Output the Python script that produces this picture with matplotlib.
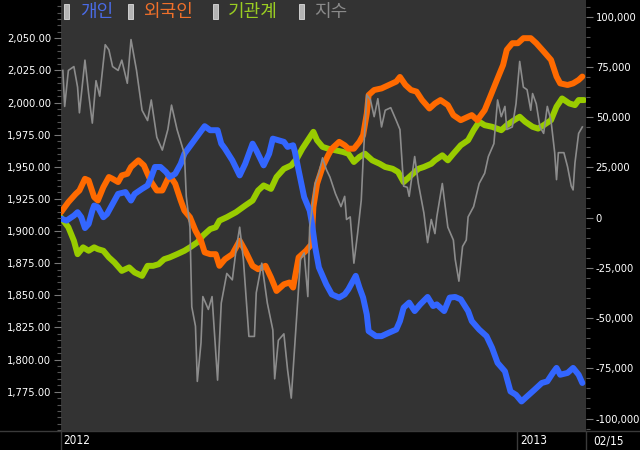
import matplotlib
matplotlib.use('Agg')
import matplotlib.pyplot as plt
from matplotlib.patches import Rectangle
from matplotlib.ticker import FuncFormatter, MultipleLocator, FixedLocator

plt.rcParams['font.family'] = ['DejaVu Sans']
plt.rcParams['font.stretch'] = 'condensed'

# 누적 순매수 (개인 / 외국인 / 기관계), 거래일 기준 x
days_indiv = [0, 3, 7, 9, 11, 13, 15, 17, 18, 20, 23, 25, 28, 31, 35, 38, 40, 44, 47, 49,
              51, 54, 57, 59, 62, 65, 67, 71, 75, 78, 81, 85, 87, 89, 93, 97, 100, 104, 106, 110,
              113, 115, 118, 121, 123, 126, 127, 129, 132, 135, 136, 138, 140, 144, 147, 151, 154, 156, 160, 162,
              164, 166, 167, 171, 174, 178, 182, 184, 186, 189, 192, 195, 199, 202, 204, 208, 211, 214, 217, 221,
              223, 227, 231, 234, 237, 241, 244, 247, 250, 253, 257, 261, 264, 267, 269, 271, 275, 278, 281, 283]
indiv = [-500, -1500, 1000, 2700, 200, -5200, -3200, 3500, 6000, 5200, 200, 1800, 6800, 11800, 12700, 8500, 11800, 14300, 16000, 20200,
         25200, 25200, 22700, 20200, 21800, 26800, 31800, 36800, 41800, 45500, 43500, 43500, 36800, 34300, 28500, 21000, 26800, 36800, 33500, 26000,
         31800, 39300, 38500, 37700, 35200, 36000, 32700, 23500, 10200, 3500, -1500, -14800, -24800, -33200, -38200, -39800, -38200, -35700, -29000, -34800,
         -39800, -48200, -56500, -59000, -59000, -57300, -55700, -51500, -44800, -42300, -46500, -43200, -39500, -44000, -43200, -46500, -39800, -39500, -40700, -46500,
         -51500, -55700, -59000, -64800, -72300, -76500, -86500, -88200, -91500, -89000, -85700, -82300, -81500, -77300, -74800, -78200, -77300, -74800, -78200, -82300]

days_foreign = [0, 4, 8, 10, 13, 15, 18, 20, 23, 26, 28, 31, 33, 36, 38, 42, 45, 47, 49, 52,
                55, 58, 59, 62, 65, 67, 70, 73, 76, 78, 81, 84, 86, 89, 93, 97, 100, 104, 107, 111,
                114, 117, 121, 124, 126, 129, 133, 136, 137, 139, 142, 145, 147, 151, 154, 156, 159, 162, 164, 166,
                167, 170, 174, 178, 182, 184, 187, 190, 193, 196, 200, 203, 206, 210, 213, 217, 221, 223, 226, 230,
                233, 237, 240, 242, 245, 248, 251, 255, 258, 262, 266, 269, 271, 275, 278, 281, 283]
foreign = [2700, 7700, 11800, 13500, 19300, 18500, 10200, 8500, 15200, 20200, 19300, 17700, 21000, 21800, 25200, 28500, 26000, 21800, 17700, 13500,
           13500, 19300, 21000, 16800, 8500, 3500, 200, -6500, -11500, -17300, -18200, -18200, -24000, -20700, -18200, -11500, -16500, -24000, -25700, -24000,
           -29800, -36500, -33200, -32300, -34800, -19800, -16500, -13200, 5200, 16800, 25200, 31000, 34300, 37700, 36000, 34300, 34300, 37700, 41000, 51800,
           61000, 63500, 64300, 66000, 67700, 70000, 66000, 63500, 62700, 58500, 54300, 56800, 58500, 56000, 51000, 48500, 50200, 51000, 48500, 53500,
           60200, 69300, 76000, 83500, 86800, 86800, 89300, 89300, 86800, 82700, 78500, 70200, 66800, 66000, 66800, 68500, 70200]

days_inst = [0, 4, 7, 9, 12, 15, 18, 20, 23, 26, 29, 33, 37, 40, 44, 47, 50, 53, 56, 59,
             63, 67, 70, 74, 77, 81, 84, 86, 90, 95, 100, 104, 107, 110, 114, 117, 121, 125, 128, 131,
             134, 137, 139, 142, 145, 149, 153, 156, 159, 162, 165, 169, 173, 176, 180, 183, 186, 190, 194, 197,
             201, 203, 207, 210, 213, 217, 221, 224, 227, 230, 234, 239, 242, 246, 249, 252, 256, 259, 262, 266,
             269, 272, 276, 279, 281, 284]
inst = [0, -4800, -11500, -18200, -14800, -16500, -14800, -15700, -16500, -19800, -22300, -26500, -24800, -27300, -29000, -24000, -24000, -23200, -20700, -19800,
        -18200, -16500, -14800, -12300, -9000, -5700, -4800, -1500, 200, 2700, 6000, 8500, 13500, 16000, 14300, 20200, 24300, 26000, 29300, 34300,
        38500, 42700, 38500, 35200, 34300, 33500, 32700, 31800, 27700, 30200, 31800, 28500, 26800, 25200, 24300, 22700, 17700, 21000, 24300, 25200,
        26800, 28500, 31000, 28500, 31800, 36000, 38500, 43500, 47700, 46000, 45200, 43500, 46000, 48500, 50200, 47700, 45200, 44300, 46000, 48500,
        55200, 59300, 56800, 56000, 58500, 58500]

# 지수 (KOSPI)
days_index = [1, 2, 4, 7, 9, 10, 13, 15, 17, 19, 21, 24, 26, 28, 31, 33, 36, 38, 41, 44,
              47, 49, 52, 55, 58, 60, 63, 67, 68, 70, 71, 73, 74, 76, 77, 80, 82, 85, 87, 90,
              93, 95, 97, 99, 102, 105, 106, 109, 112, 115, 116, 118, 121, 123, 125, 127, 130, 132, 134, 135,
              138, 140, 142, 144, 146, 149, 152, 154, 155, 157, 159, 161, 163, 164, 166, 168, 170, 172, 174, 176,
              179, 182, 184, 186, 188, 189, 192, 194, 197, 199, 201, 203, 204, 207, 210, 213, 214, 216, 218, 220,
              221, 224, 227, 230, 232, 235, 237, 239, 241, 242, 245, 247, 249, 251, 253, 255, 256, 258, 260, 262,
              264, 266, 268, 269, 270, 273, 275, 277, 278, 279, 281, 283]
kospi = [2025, 1997, 2025, 2028, 2012, 1992, 2033, 2007, 1984, 2017, 2005, 2045, 2041, 2028, 2025, 2033, 2015, 2049, 2025, 1994,
         1986, 2002, 1973, 1963, 1979, 1998, 1979, 1960, 1927, 1903, 1841, 1826, 1783, 1813, 1849, 1839, 1849, 1784, 1844, 1867,
         1862, 1885, 1903, 1878, 1818, 1818, 1852, 1875, 1844, 1823, 1785, 1815, 1820, 1792, 1770, 1813, 1878, 1883, 1849, 1903,
         1937, 1945, 1957, 1948, 1942, 1929, 1919, 1927, 1909, 1911, 1875, 1898, 1924, 1955, 2006, 2002, 1989, 2003, 1981, 1994,
         1996, 1986, 1979, 1935, 1934, 1927, 1958, 1937, 1914, 1891, 1909, 1898, 1911, 1937, 1903, 1893, 1878, 1861, 1888, 1893,
         1911, 1919, 1937, 1945, 1958, 1968, 2002, 1989, 1997, 1979, 1981, 1999, 2032, 2012, 2010, 1994, 2007, 1999, 1981, 1976,
         1997, 1986, 1961, 1940, 1961, 1961, 1950, 1935, 1932, 1953, 1976, 1981]

flow_ticks = list(range(-100000, 100001, 25000))
index_ticks = list(range(1775, 2051, 25))
legend_names = ['개인', '외국인', '기관계', '지수']
line_colors = ['#3366ff', '#ff6a00', '#99cc00', '#8c8c8c']
text_colors = ['#4a6be6', '#f0702a', '#9acd22', '#8a8a8a']
year_ticks = [0, 248]
year_labels = ['2012', '2013']
end_label = '02/15'

W, H = 640, 450
fig = plt.figure(figsize=(6.4, 4.5), dpi=100, facecolor='black')
ax = fig.add_axes([61 / W, 19 / H, 525 / W, 431 / H], facecolor='#333333')
ax2 = ax.twinx()

ax.plot(days_inst, inst, color=line_colors[2], lw=4.3, solid_capstyle='round', solid_joinstyle='round')
ax.plot(days_foreign, foreign, color=line_colors[1], lw=4.3, solid_capstyle='round', solid_joinstyle='round')
ax.plot(days_indiv, indiv, color=line_colors[0], lw=4.3, solid_capstyle='round', solid_joinstyle='round')
ax2.plot(days_index, kospi, color=line_colors[3], lw=1.2)

ax.set_xlim(0, 285)
ax.set_ylim(-106200, 108300)
ax2.set_ylim(1744.4, 2079.8)

# 수급은 오른쪽, 지수는 왼쪽
ax.yaxis.tick_right()
ax2.yaxis.tick_left()
ax.yaxis.set_major_locator(FixedLocator(flow_ticks))
ax.yaxis.set_minor_locator(MultipleLocator(5000))
ax2.yaxis.set_major_locator(FixedLocator(index_ticks))
ax2.yaxis.set_minor_locator(MultipleLocator(5))
ax.yaxis.set_major_formatter(FuncFormatter(lambda v, p: '{:,.0f}'.format(v)))
ax2.yaxis.set_major_formatter(FuncFormatter(lambda v, p: '{:,.2f}'.format(v)))
ax.set_xticks([])
ax2.set_xticks([])

for a in (ax, ax2):
    for s in a.spines.values():
        s.set_visible(False)
    a.tick_params(axis='y', which='major', length=5, width=0.8, color='#777777',
                  labelcolor='white', labelsize=8, pad=2)
    a.tick_params(axis='y', which='minor', length=3, width=0.8, color='#555555')

# 하단 날짜 영역
fig.add_artist(plt.Line2D([0, 1], [19 / H, 19 / H], color='#3a3a3a', lw=1))
for px in (61, 517, 586):
    fig.add_artist(plt.Line2D([px / W, px / W], [0, 19 / H], color='#3a3a3a', lw=1))
for d, lab in zip(year_ticks, year_labels):
    xf = (61 + d / 285 * 525 + 2) / W
    fig.text(xf, 9 / H, lab, color='white', fontsize=8.5, va='center', ha='left')
fig.text(593 / W, 9 / H, end_label, color='white', fontsize=8.5, va='center', ha='left')

# 범례
marker_x = [64, 128, 213, 299]
text_x = [80, 143, 228, 314]
for mx, tx, name, c in zip(marker_x, text_x, legend_names, text_colors):
    fig.add_artist(Rectangle((mx / W, 1 - 19 / H), 5 / W, 15 / H, facecolor='#b4b4b4',
                             edgecolor='#dddddd', lw=0.6, transform=fig.transFigure))
    fig.text(tx / W, 1 - 11.5 / H, name, color=c, fontsize=13,
             family=['Noto Sans CJK KR', 'DejaVu Sans'], va='center', ha='left')

fig.savefig('out.png', dpi=100, facecolor='black')
